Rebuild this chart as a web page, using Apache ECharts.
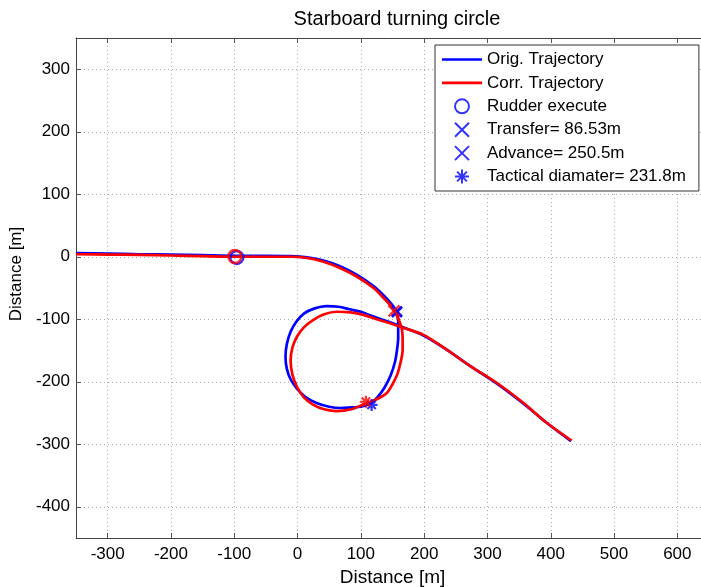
<!DOCTYPE html>
<html>
<head>
<meta charset="utf-8">
<script src="https://cdn.jsdelivr.net/npm/echarts@6/dist/echarts.min.js"></script>
<style>
  html, body { margin: 0; padding: 0; background: #fff; }
  #chart { width: 701px; height: 587px; }
</style>
</head>
<body>
<div id="chart"></div>
<script>
// Trajectories [x, y] in metres
const origTrajectory = [
  [-350, 6], [-300, 5], [-250, 4], [-200, 3.5], [-150, 2.5], [-100, 1.5], [-50, 1.5], [-10, 1],
  [15, -1], [41, -6], [67, -15], [94, -29], [120, -47], [141, -67], [151, -79], [157, -89],
  [159, -102], [159, -116], [159, -130], [157, -150], [154, -168], [147, -190], [137, -210],
  [126, -225], [115, -235], [100, -240], [85, -241], [68, -242], [50, -240], [30, -234],
  [12, -224], [-1, -211], [-11, -196], [-17, -179], [-19, -160], [-17, -140], [-11, -120],
  [-2, -104], [10, -91], [26, -83], [46, -79], [65, -80], [82, -84], [100, -88], [118, -95],
  [138, -102], [162, -111], [199, -126], [236, -149], [273, -175], [315, -203], [357, -235],
  [394, -266], [432, -295]
];
const corrTrajectory = [
  [-350, 4], [-300, 3.5], [-250, 3], [-200, 2], [-150, 1], [-100, 0], [-50, 0], [-10, 0],
  [15, -2], [41, -8], [67, -18], [94, -32], [120, -50], [136, -66], [146, -77], [153, -87],
  [160, -101], [165, -117], [166, -133], [166, -149], [163, -168], [158, -187], [150, -204],
  [141, -218], [125, -228], [107, -235], [85, -244], [62, -247], [42, -244], [25, -237],
  [10, -225], [-1, -208], [-8, -189], [-11, -166], [-8, -145], [-1, -128], [10, -113],
  [25, -101], [42, -92], [62, -88], [84, -89], [104, -93], [125, -100], [145, -106],
  [162, -112], [199, -125], [236, -149], [273, -175], [315, -202], [357, -234], [394, -266],
  [433, -294]
];

// Manoeuvre points
const origRudder = [[-96, -1]];
const corrRudder = [[-99, 0.5]];
const origTransfer = [[157, -88]];
const corrTransfer = [[152.5, -86.5]];
const origTactical = [[117, -237]];
const corrTactical = [[108, -232]];

const xTicks = [-300, -200, -100, 0, 100, 200, 300, 400, 500, 600];
const yTicks = [-400, -300, -200, -100, 0, 100, 200, 300];

const BLUE = '#0000ff';
const RED = '#ff0000';
const FONT = '"Liberation Sans", Arial, sans-serif';

const linePath = 'path://M0,0 L40,0 L40,2.6 L0,2.6 Z';
const crossPath = 'path://M0,0 L10,10 M10,0 L0,10';
const starPath = 'path://M5,0 L5,10 M0,5 L10,5 M1.5,1.5 L8.5,8.5 M8.5,1.5 L1.5,8.5';

const legendItems = [
  { name: 'Orig. Trajectory', icon: linePath },
  { name: 'Corr. Trajectory', icon: linePath },
  { name: 'Rudder execute' },
  { name: 'Transfer= 86.53m' },
  { name: 'Advance= 250.5m' },
  { name: 'Tactical diamater= 231.8m' }
];

const chart = echarts.init(document.getElementById('chart'));

function marker(name, data, symbol, size, color, width) {
  return {
    name: name,
    type: 'scatter',
    data: data,
    symbol: symbol,
    symbolSize: size,
    itemStyle: { color: 'rgba(0,0,0,0)', borderColor: color, borderWidth: width },
    z: 5
  };
}

const axisLine = { show: true, onZero: false, lineStyle: { color: '#444', width: 1 } };
const axisTick = (vals) => ({ show: true, inside: true, length: 5, customValues: vals, lineStyle: { color: '#555' } });

const option = {
  backgroundColor: '#fff',
  animation: false,
  title: {
    text: 'Starboard turning circle',
    left: 392,
    top: 4,
    textAlign: 'center',
    textStyle: { fontFamily: FONT, fontSize: 20, fontWeight: 'normal', color: '#000' }
  },
  legend: {
    data: legendItems,
    orient: 'vertical',
    left: 435,
    top: 45,
    padding: [6, 13, 6, 7],
    itemWidth: 40,
    itemHeight: 14,
    itemGap: 6.4,
    selectedMode: false,
    backgroundColor: '#fff',
    borderColor: '#333',
    borderWidth: 1,
    borderRadius: 0,
    textStyle: { fontFamily: FONT, fontSize: 17, color: '#000', lineHeight: 16 }
  },
  grid: {
    left: 76, right: -8, top: 38, bottom: 49,
    outerBoundsMode: 'none',
    containLabel: false
  },
  xAxis: [{
    type: 'value',
    min: -350, max: 650,
    name: 'Distance [m]',
    nameLocation: 'middle',
    nameGap: 27,
    nameTextStyle: { fontFamily: FONT, fontSize: 19, color: '#000' },
    axisLine: axisLine,
    axisTick: axisTick(xTicks),
    axisLabel: { customValues: xTicks, fontFamily: FONT, fontSize: 17, color: '#000', margin: 8 },
    splitLine: { show: true, lineStyle: { color: '#aaa', type: [1, 3], width: 1 } }
  }, {
    type: 'value',
    position: 'top',
    min: -350, max: 650,
    axisLine: axisLine,
    axisTick: axisTick(xTicks),
    axisLabel: { show: false },
    splitLine: { show: false }
  }],
  yAxis: [{
    type: 'value',
    min: -450, max: 350,
    name: 'Distance [m]',
    nameLocation: 'middle',
    nameGap: 48,
    nameTextStyle: { fontFamily: FONT, fontSize: 17, color: '#000', padding: [0, 0, 0, 28] },
    axisLine: axisLine,
    axisTick: axisTick(yTicks),
    axisLabel: { customValues: yTicks, fontFamily: FONT, fontSize: 17, color: '#000', margin: 6 },
    splitLine: { show: true, lineStyle: { color: '#aaa', type: [1, 3], width: 1 } }
  }, {
    type: 'value',
    position: 'right',
    min: -450, max: 350,
    axisLine: axisLine,
    axisTick: axisTick(yTicks),
    axisLabel: { show: false },
    splitLine: { show: false }
  }],
  series: [
    {
      name: 'Orig. Trajectory', type: 'line', data: origTrajectory,
      symbol: 'none', showSymbol: false, smooth: 0.3, color: BLUE,
      lineStyle: { color: BLUE, width: 2.7 }
    },
    {
      name: 'Corr. Trajectory', type: 'line', data: corrTrajectory,
      symbol: 'none', showSymbol: false, smooth: 0.3, color: RED,
      lineStyle: { color: RED, width: 2.7 }
    },
    marker('Rudder execute', origRudder, 'circle', 13, BLUE, 2.5),
    marker('Corr. Rudder execute', corrRudder, 'circle', 13, RED, 2.5),
    marker('Transfer= 86.53m', origTransfer, crossPath, 10, BLUE, 2.5),
    marker('Advance= 250.5m', origTransfer, crossPath, 10, BLUE, 2.5),
    marker('Corr. Transfer', corrTransfer, crossPath, 11, RED, 2.5),
    marker('Tactical diamater= 231.8m', origTactical, starPath, 12, BLUE, 2.2),
    marker('Corr. Tactical', corrTactical, starPath, 12, RED, 2.2)
  ]
};

chart.setOption(option);
</script>
</body>
</html>
